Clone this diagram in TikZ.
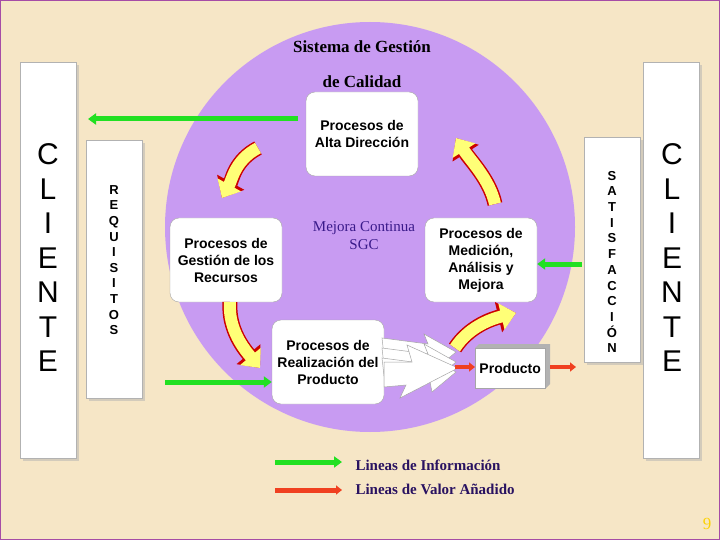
\documentclass[tikz,border=0pt]{standalone}
\usepackage{fontspec}
\setmainfont{Liberation Serif}
\setsansfont{Liberation Sans}
\usetikzlibrary{arrows.meta,shadows}
\definecolor{bg}{HTML}{F6E6C6}
\definecolor{circ}{HTML}{C89BF2}
\definecolor{grn}{HTML}{22E022}
\definecolor{rd}{HTML}{F04020}
\definecolor{ylw}{HTML}{FFFF77}
\definecolor{dpur}{HTML}{3A1A8A}
\begin{document}
\begin{tikzpicture}[x=1pt,y=-1pt,
  proc/.style={draw=gray!70,fill=white,rounded corners=9pt,minimum width=112pt,minimum height=84pt,align=center,inner sep=1pt,font=\sffamily\bfseries\fontsize{14}{17}\selectfont},
  panel/.style={draw=gray!60,fill=white,drop shadow={shadow xshift=3pt,shadow yshift=-3pt,fill=gray!60},anchor=north west,align=center},
  garr/.style={draw=grn,line width=5pt,-{Triangle[length=8pt,width=11pt]}},
  rarr/.style={draw=rd,line width=4pt,-{Triangle[length=6pt,width=9pt]}},
  cred/.style={draw=red!80!black,line width=15pt,-{Triangle[length=18pt,width=30pt]}},
  cyel/.style={draw=ylw,line width=12pt,-{Triangle[length=15pt,width=26pt]}}]
\fill[bg] (0,0) rectangle (720,540);
\draw[violet!70,line width=1pt] (0.5,0.5) rectangle (719.5,539.5);
\fill[circ] (370,227) circle (205);
% panels
\node[panel,minimum width=56pt,minimum height=396pt,inner sep=0pt] (cl) at (20,62) {};
\node[font=\sffamily\fontsize{30}{34.5}\selectfont,align=center] (clt) at (48,258) {C\\L\\I\\E\\N\\T\\E};
\node[panel,minimum width=56pt,minimum height=396pt,inner sep=0pt] (cr) at (643,62) {};
\node[font=\sffamily\fontsize{30}{34.5}\selectfont,align=center] (crt) at (672,258) {C\\L\\I\\E\\N\\T\\E};
\node[panel,minimum width=56pt,minimum height=258pt,inner sep=0pt] (rq) at (86,140) {};
\node[font=\sffamily\bfseries\fontsize{13}{15.6}\selectfont,align=center] (rqt) at (114,260) {R\\E\\Q\\U\\I\\S\\I\\T\\O\\S};
\node[panel,minimum width=56pt,minimum height=225pt,inner sep=0pt] (sa) at (584,137) {};
\node[font=\sffamily\bfseries\fontsize{13}{15.7}\selectfont,align=center] (sat) at (612,262) {S\\A\\T\\I\\S\\F\\A\\C\\C\\I\\Ó\\N};
% title
\node[font=\bfseries\fontsize{17}{19}\selectfont] (t1) at (362,47) {Sistema de Gestión};
\node[font=\bfseries\fontsize{17}{19}\selectfont] (t2) at (362,82) {de Calidad};
% process nodes
\node[proc] (alta) at (362,134) {Procesos de\\Alta Dirección};
\node[proc] (gest) at (226,260) {Procesos de\\Gestión de los\\Recursos};
\node[proc] (med) at (481,260) {Procesos de\\Medición,\\Análisis y\\Mejora};
\node[proc] (real) at (328,362) {Procesos de\\Realización del\\Producto};
\node[align=center,text=dpur,font=\fontsize{15}{18}\selectfont] (mc) at (364,236) {Mejora Continua\\SGC};
% white chevrons
\foreach \dy in {0,10,20}{
\filldraw[fill=white,draw=gray!70,line width=0.5pt] (382,338+\dy) -- (428,344+\dy) -- (424,334+\dy) -- (456,352+\dy) -- (432,372+\dy) -- (430,362+\dy) -- (384,356+\dy) -- cycle;}
\filldraw[fill=white,draw=gray!70,line width=0.5pt] (384,362) -- (412,362) -- (407,345) -- (458,368) -- (400,398) -- (406,385) -- (384,387) -- cycle;
% producto box
\fill[gray!60] (475,348) -- (479,344) -- (550,344) -- (550,384) -- (545,389) -- cycle;
\node[draw=gray!70,fill=white,minimum width=70pt,minimum height=40pt,anchor=north west,inner sep=0pt,font=\sffamily\bfseries\fontsize{14}{16}\selectfont] (prod) at (475,348) {Producto};
% yellow curved arrows
\foreach \s in {cred,cyel}{
\draw[\s] (258,148) .. controls (235,160) and (232,180) .. (222,198);
\draw[\s] (230,302) .. controls (228,330) and (245,350) .. (260,368);
\draw[\s] (455,348) .. controls (470,325) and (495,318) .. (516,313);
\draw[\s] (495,204) .. controls (490,180) and (470,160) .. (456,138);
}
% green / red arrows
\coordinate (g1s) at (298,119); \coordinate (g1e) at (88,119);
\draw[garr] (g1s) -- (g1e);
\coordinate (g2s) at (165,382);
\draw[garr] (g2s) -- (real.west|-g2s);
\coordinate (g3s) at (582,264);
\draw[garr] (g3s) -- (med.east|-g3s);
\coordinate (r1s) at (455,367);
\draw[rarr] (r1s) -- (prod.west|-r1s);
\coordinate (r2e) at (576,367);
\draw[rarr] (550,367) -- (r2e);
% legend
\coordinate (l1a) at (275,462); \coordinate (l1b) at (342,462);
\draw[garr] (l1a) -- (l1b);
\coordinate (l2a) at (275,490); \coordinate (l2b) at (342,490);
\draw[rarr,line width=5pt] (l2a) -- (l2b);
\node[anchor=west,text=dpur!70!black,font=\bfseries\fontsize{15}{17}\selectfont] (lg1) at (352,465) {Lineas de Información};
\node[anchor=west,text=dpur!70!black,font=\bfseries\fontsize{15}{17}\selectfont] (lg2) at (352,489) {Lineas de Valor Añadido};
\node[text=yellow!70!orange,font=\fontsize{17}{19}\selectfont] (pg) at (707,524) {9};
\end{tikzpicture}
\end{document}
